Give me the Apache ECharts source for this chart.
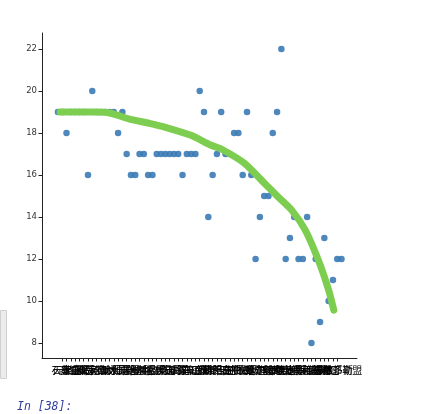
<!DOCTYPE html>
<html>
<head>
<meta charset="utf-8">
<script src="https://cdn.jsdelivr.net/npm/echarts@6/dist/echarts.min.js"></script>
<style>
html,body{margin:0;padding:0;background:#fff;}
#chart{width:448px;height:414px;}
</style>
</head>
<body>
<div id="chart"></div>
<script>
// Category labels (x axis)
const categories = ["北京","天津","石家庄","唐山","秦皇岛","邯郸","邢台","保定","张家口","承德","沧州","廊坊","衡水","太原","大同","阳泉","长治","晋城","朔州","晋中","运城","忻州","临汾","吕梁","沈阳","大连","鞍山","抚顺","本溪","丹东","锦州","营口","阜新","辽阳","盘锦","铁岭","朝阳","葫芦岛","长春","吉林","四平","辽源","通化","白山","松原","白城","延边","哈尔滨","齐齐哈尔","鸡西","鹤岗","双鸭山","大庆","伊春","佳木斯","七台河","牡丹江","黑河","绥化","呼和浩特","包头","乌海","赤峰","通辽","鄂尔多斯","锡林郭勒盟","阿拉善盟"];

// Scatter values, one per category
const values = [19,19,18,19,19,19,19,16,20,19,19,19,19,19,18,19,
  17,16,16,17,17,16,16,
  17,17,17,17,17,17,
  16,17,17,17,
  20,19,14,16,17,19,17,17,
  18,18,16,19,16,
  12,14,15,15,18,19,22,
  12,13,14,12,12,14,
  8,12,9,13,10,11,12,12];

// Smoothed (lowess) trend line
const trendX = [0.5, 4, 8, 11.5, 16.7, 21.3, 24.5, 30.8, 35.5, 37.9, 43.4, 48.1, 51.2, 54.4, 57.5, 60.6, 63.0, 64.2];
const trendY = [19.0, 19.0, 19.0, 18.98, 18.66, 18.46, 18.3, 17.9, 17.43, 17.25, 16.56, 15.6, 14.97, 14.33, 13.4, 11.95, 10.52, 9.57];

// Y tick labels
const yTicks = [8, 10, 12, 14, 16, 18, 20, 22];

const chart = echarts.init(document.getElementById('chart'), null, {renderer: 'canvas'});
const xIdx = categories.map((_, i) => i);

chart.setOption({
  animation: false,
  backgroundColor: '#ffffff',
  grid: {left: 42, top: 33, right: 91, bottom: 56, containLabel: false},
  xAxis: {
    type: 'value',
    min: -3.7,
    max: 69.6,
    splitLine: {show: false},
    axisLine: {show: true, onZero: false, lineStyle: {color: '#222', width: 1}},
    axisTick: {show: true, length: 3.5, lineStyle: {color: '#222', width: 1}, customValues: xIdx},
    axisLabel: {
      customValues: xIdx,
      formatter: v => categories[Math.round(v)] || '',
      fontFamily: '"Noto Sans CJK SC", sans-serif',
      fontSize: 10,
      color: '#000',
      margin: 7,
      hideOverlap: false
    }
  },
  yAxis: {
    type: 'value',
    min: 7.29,
    max: 22.76,
    splitLine: {show: false},
    axisLine: {show: true, onZero: false, lineStyle: {color: '#222', width: 1}},
    axisTick: {show: true, length: 3.5, lineStyle: {color: '#222', width: 1}, customValues: yTicks},
    axisLabel: {
      customValues: yTicks,
      fontFamily: '"DejaVu Sans", sans-serif',
      fontSize: 8.5,
      color: '#333',
      margin: 5
    }
  },
  series: [
    {
      type: 'scatter',
      data: values.map((v, i) => [i, v]),
      symbolSize: 6.5,
      itemStyle: {color: '#3a7ab5', opacity: 0.9},
      z: 2
    },
    {
      type: 'line',
      data: trendX.map((x, i) => [x, trendY[i]]),
      smooth: 0.25,
      showSymbol: false,
      symbol: 'none',
      lineStyle: {color: '#7dcd50', width: 7, cap: 'round', join: 'round'},
      z: 3
    }
  ],
  graphic: [
    {type: 'rect', left: 0, top: 310, shape: {width: 6, height: 68}, style: {fill: '#ececec', stroke: '#d0d0d0', lineWidth: 1}},
    {type: 'text', left: 17, top: 401, style: {text: 'In [38]:', font: 'italic 11.5px "DejaVu Sans Mono", monospace', fill: '#303F9F'}}
  ]
});
</script>
</body>
</html>
